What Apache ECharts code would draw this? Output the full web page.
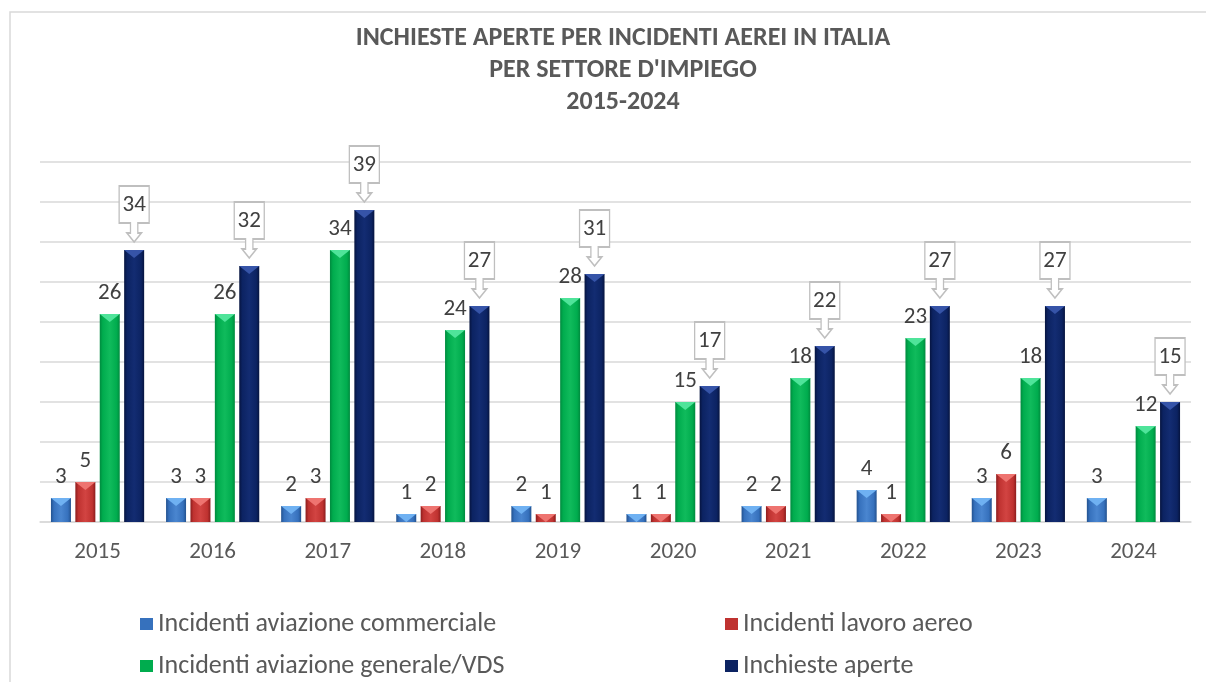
<!DOCTYPE html>
<html>
<head>
<meta charset="utf-8">
<script src="https://cdn.jsdelivr.net/npm/echarts@6/dist/echarts.min.js"></script>
<style>
  html, body { margin: 0; padding: 0; background: #fff; }
  #chart { width: 1206px; height: 682px; }
</style>
</head>
<body>
<div id="chart"></div>
<script>
// dati
const years = ['2015', '2016', '2017', '2018', '2019', '2020', '2021', '2022', '2023', '2024'];
const commerciale = [3, 3, 2, 1, 2, 1, 2, 4, 3, 3];
const lavoroAereo = [5, 3, 3, 2, 1, 1, 2, 1, 6, 0];
const generaleVds = [26, 26, 34, 24, 28, 15, 18, 23, 18, 12];
const inchieste = [34, 32, 39, 27, 31, 17, 22, 27, 27, 15];

const names = [
  'Incidenti aviazione commerciale',
  'Incidenti lavoro aereo',
  'Incidenti aviazione generale/VDS',
  'Inchieste aperte'
];

const FONT = 'Carlito, Lato, sans-serif';
const TXT = '#595959';

// colori: bordo, corpo, luce, triangolo in cima
const palette = [
  { edge: '#23528f', main: '#3671bd', light: '#4a86d0', top: '#6fb1f2' },
  { edge: '#8c1d1d', main: '#bf3230', light: '#d24442', top: '#ee7470' },
  { edge: '#008a3e', main: '#00ac4e', light: '#10bb5c', top: '#4fe49a' },
  { edge: '#06143f', main: '#0c2362', light: '#132c72', top: '#3654a8' }
];

function barGrad(p) {
  return new echarts.graphic.LinearGradient(0, 0, 1, 0, [
    { offset: 0, color: p.edge },
    { offset: 0.15, color: p.main },
    { offset: 0.5, color: p.light },
    { offset: 0.85, color: p.main },
    { offset: 1, color: p.edge }
  ]);
}

const values = [commerciale, lavoroAereo, generaleVds, inchieste];

const chart = echarts.init(document.getElementById('chart'));

const series = [];
values.forEach((arr, i) => {
  series.push({
    name: names[i],
    type: 'bar',
    barWidth: 20,
    barGap: '22%',
    data: arr,
    itemStyle: { color: barGrad(palette[i]) },
    label: {
      show: i < 3,
      position: 'top',
      distance: 9,
      color: '#404040',
      fontSize: 23,
      fontFamily: FONT,
      formatter: p => (p.value ? String(p.value) : '')
    },
    markPoint: i === 3 ? {
      symbol: 'path://M0 0 L41 0 L41 37 L25.5 37 L25.5 47 L30.5 47 L20.5 56 L10.5 47 L15.5 47 L15.5 37 L0 37 Z',
      symbolSize: [41, 56],
      symbolKeepAspect: true,
      symbolOffset: [0, -36],
      itemStyle: { color: '#ffffff', borderColor: '#bfbfbf', borderWidth: 1.5 },
      label: {
        show: true,
        color: '#404040',
        fontSize: 23,
        fontFamily: FONT,
        offset: [0, -9],
        formatter: p => String(p.value)
      },
      data: arr.map((v, k) => ({ coord: [years[k], v], value: v }))
    } : undefined,
    z: 2
  });
});

// triangoli chiari in cima alle barre (effetto smusso)
values.forEach((arr, i) => {
  series.push({
    name: 'top' + i,
    type: 'pictorialBar',
    barWidth: 20,
    barGap: '22%',
    symbol: 'path://M0 0 L20 0 L10 8 Z',
    symbolSize: [20, 8],
    symbolPosition: 'end',
    itemStyle: { color: palette[i].top },
    data: arr.map(v => (v ? v : '-')),
    silent: true,
    z: 3
  });
});

const legendPos = [[135, 606], [720, 606], [135, 648], [720, 648]];

chart.setOption({
  animation: false,
  backgroundColor: '#ffffff',
  title: {
    text: 'INCHIESTE APERTE PER INCIDENTI AEREI IN ITALIA\nPER SETTORE D\'IMPIEGO\n2015-2024',
    left: 618,
    top: 17,
    textAlign: 'center',
    textStyle: {
      fontFamily: FONT,
      fontSize: 26,
      fontWeight: 'bold',
      color: TXT,
      lineHeight: 32
    }
  },
  graphic: [{
    type: 'rect',
    shape: { x: 10, y: 12, width: 1230, height: 720 },
    style: { fill: 'none', stroke: '#d9d9d9', lineWidth: 1.5 },
    silent: true
  }],
  legend: names.map((n, i) => ({
    data: [{ name: n, itemStyle: { color: palette[i].main } }],
    left: legendPos[i][0],
    top: legendPos[i][1],
    itemWidth: 13,
    itemHeight: 12,
    icon: 'rect',
    selectedMode: false,
    textStyle: { fontFamily: FONT, fontSize: 26, color: TXT }
  })),
  grid: { left: 40, right: 15, top: 162, bottom: 160 },
  xAxis: {
    type: 'category',
    data: years,
    axisTick: { show: false },
    axisLine: { lineStyle: { color: '#d9d9d9', width: 1.5 } },
    axisLabel: { color: TXT, fontSize: 23, fontFamily: FONT, margin: 19 }
  },
  yAxis: {
    type: 'value',
    min: 0,
    max: 45,
    interval: 5,
    axisLabel: { show: false },
    axisLine: { show: false },
    axisTick: { show: false },
    splitLine: { lineStyle: { color: '#d9d9d9', width: 1.5 } }
  },
  series: series
});
</script>
</body>
</html>
